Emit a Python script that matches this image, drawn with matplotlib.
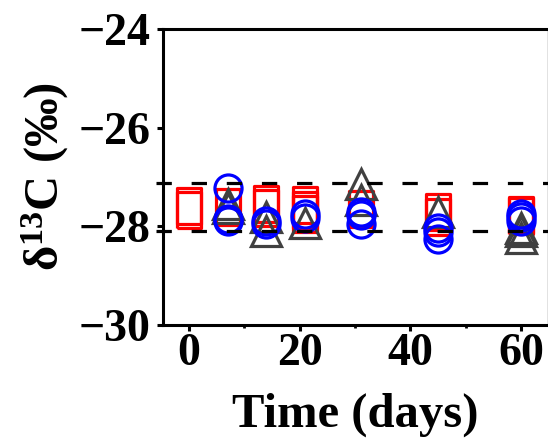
import numpy as np
import matplotlib
matplotlib.use('Agg')
import matplotlib.pyplot as plt

# ─── Data ───
days_red = [0, 0, 7, 14, 14, 21, 21, 21, 31, 45, 45, 60, 60]
d13c_red = [-27.59, -27.67, -27.61, -27.55, -27.62, -27.57, -27.67, -27.75,
            -27.65, -27.71, -27.81, -27.77, -27.80]

days_gray = [7, 7, 14, 14, 21, 31, 31, 45, 60, 60, 60]
d13c_gray = [-27.55, -27.62, -27.81, -28.09, -27.93, -27.14, -27.47,
             -27.70, -28.03, -28.10, -28.24]

days_blue = [7, 7, 7, 14, 14, 21, 21, 31, 31, 31, 45, 45, 45, 60, 60, 60]
d13c_blue = [-27.23, -27.85, -27.90, -27.90, -27.95, -27.76, -27.83,
             -27.70, -27.78, -27.96, -28.04, -28.12, -28.25, -27.74,
             -27.82, -27.90]

ref_levels = [-27.13, -28.10]

x_ticks = [0, 20, 40, 60]
y_ticks = [-30, -28, -26, -24]

plt.rcParams['font.family'] = ['Liberation Serif', 'DejaVu Serif']
plt.rcParams['font.weight'] = 'bold'
plt.rcParams['mathtext.fontset'] = 'custom'
plt.rcParams['mathtext.rm'] = 'Liberation Serif:bold'
plt.rcParams['mathtext.default'] = 'rm'

fig = plt.figure(figsize=(5.48, 4.46), dpi=100)
ax = fig.add_axes([163 / 548, 1 - 325 / 446, 384.5 / 548, 296 / 446])

# tall hollow rectangle used for the red markers
rect = [(-0.68, -1), (0.68, -1), (0.68, 1), (-0.68, 1), (-0.68, -1)]

ax.plot(days_red, d13c_red, ls='none', marker=rect, ms=25.5,
        mfc='none', mec='#FF0000', mew=2.3, zorder=3)
ax.plot(days_gray, d13c_gray, ls='none', marker='^', ms=21,
        mfc='none', mec='#404040', mew=2.3, zorder=4)
ax.plot(days_blue, d13c_blue, ls='none', marker='o', ms=19.5,
        mfc='none', mec='#0000FF', mew=2.3, zorder=5)

for lvl in ref_levels:
    ax.plot([-5.9, 65], [lvl, lvl], color='black', lw=2.3,
            ls=(0, (4.8, 6.2)), clip_on=False, zorder=6)

ax.set_xlim(-4.7, 64.8)
ax.set_ylim(-30, -24)
ax.set_xticks(x_ticks)
ax.set_xticks([10, 30, 50], minor=True)
ax.set_yticks(y_ticks)

for side in ['left', 'bottom', 'top']:
    ax.spines[side].set_linewidth(2.2)
    ax.spines[side].set_color('black')
ax.spines['right'].set_linewidth(1.0)
ax.spines['right'].set_color('#707070')

ax.tick_params(axis='both', which='major', direction='out', length=4.3,
               width=2.2, labelsize=33)
ax.tick_params(axis='x', which='minor', direction='out', length=2.5, width=2.0)
ax.tick_params(axis='x', which='major', pad=1.5)
ax.tick_params(axis='y', which='major', pad=5)
ax.tick_params(top=False, right=False)

ax.set_xlabel('Time (days)', fontsize=35, fontweight='bold')
ax.set_ylabel(r'$\delta^{13}$C (‰)', fontsize=35, fontweight='bold')
ax.xaxis.set_label_coords(0.5, -0.23)
ax.yaxis.set_label_coords(-0.24, 0.5)

fig.savefig('out.png', dpi=100)
